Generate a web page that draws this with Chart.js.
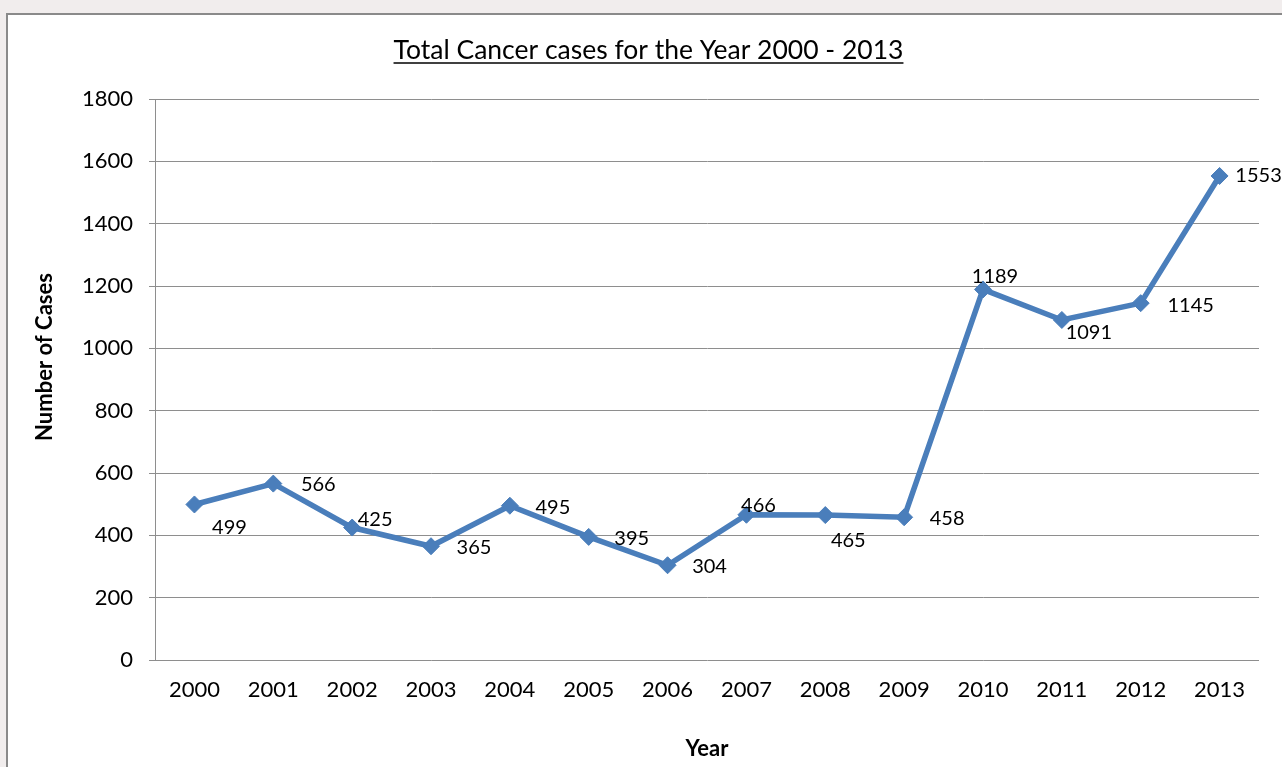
<!DOCTYPE html>
<html>
<head>
<meta charset="utf-8">
<script src="https://cdn.jsdelivr.net/npm/chart.js@4.4.1/dist/chart.umd.min.js"></script>
<style>
  html, body { margin: 0; padding: 0; background: #f1eded; }
  #wrap { width: 1282px; height: 767px; }
</style>
</head>
<body>
<div id="wrap"><canvas id="c" width="1282" height="767"></canvas></div>
<script>
// ---- data ----
const years = ['2000','2001','2002','2003','2004','2005','2006','2007','2008','2009','2010','2011','2012','2013'];
const cases = [499, 566, 425, 365, 495, 395, 304, 466, 465, 458, 1189, 1091, 1145, 1553];
const yTicks = [0, 200, 400, 600, 800, 1000, 1200, 1400, 1600, 1800];
const chartTitle = 'Total Cancer cases for the Year 2000 - 2013';
const xTitle = 'Year';
const yTitle = 'Number of Cases';
// label placement offsets (style, px) relative to each point
const labelDx = [35, 45, 23, 43, 43, 43, 42, 12, 23, 43, 12, 27, 50, 39];
const labelDy = [23, 1, -8, 1, 2, 2, 1, -9, 25, 1, -13, 13, 2, 0];

const FONT = 'Lato, "Open Sans", sans-serif';

const framePlugin = {
  id: 'frame',
  beforeDraw(chart) {
    const ctx = chart.ctx;
    ctx.save();
    ctx.fillStyle = '#f1eded';
    ctx.fillRect(0, 0, chart.width, chart.height);
    ctx.fillStyle = '#ffffff';
    ctx.fillRect(7, 14, chart.width - 7, chart.height - 14);
    ctx.strokeStyle = '#8a8a8a';
    ctx.lineWidth = 2;
    ctx.beginPath();
    ctx.moveTo(7, chart.height);
    ctx.lineTo(7, 14);
    ctx.lineTo(chart.width, 14);
    ctx.stroke();
    // title
    ctx.fillStyle = '#000';
    ctx.font = '26.5px ' + FONT;
    ctx.textAlign = 'center';
    ctx.textBaseline = 'alphabetic';
    const cx = 648.5, by = 59;
    ctx.fillText(chartTitle, cx, by);
    const w = ctx.measureText(chartTitle).width;
    ctx.lineWidth = 1.6;
    ctx.strokeStyle = '#000';
    ctx.beginPath();
    ctx.moveTo(cx - w / 2, by + 4);
    ctx.lineTo(cx + w / 2, by + 4);
    ctx.stroke();
    // y axis title
    ctx.translate(45, 357);
    ctx.rotate(-Math.PI / 2);
    ctx.font = 'bold 22px ' + FONT;
    ctx.textBaseline = 'middle';
    ctx.fillText(yTitle, 0, 0);
    ctx.restore();
  },
  afterDatasetsDraw(chart) {
    const ctx = chart.ctx;
    const meta = chart.getDatasetMeta(0);
    ctx.save();
    ctx.fillStyle = '#000';
    ctx.font = '20px ' + FONT;
    ctx.textAlign = 'center';
    ctx.textBaseline = 'middle';
    meta.data.forEach((pt, i) => {
      ctx.fillText(String(cases[i]), pt.x + labelDx[i], pt.y + labelDy[i]);
    });
    ctx.restore();
  }
};

function build() {
  new Chart(document.getElementById('c'), {
    type: 'line',
    data: {
      labels: years,
      datasets: [{
        data: cases,
        borderColor: '#4a7ebb',
        backgroundColor: '#4a7ebb',
        borderWidth: 5.5,
        pointStyle: 'rectRot',
        pointRadius: 8.5,
        pointBorderWidth: 1,
        pointBorderColor: '#4a7ebb',
        tension: 0,
        fill: false
      }]
    },
    options: {
      responsive: false,
      animation: false,
      devicePixelRatio: 1,
      layout: { padding: { top: 99, right: 23, bottom: 0, left: 31 } },
      plugins: { legend: { display: false }, tooltip: { enabled: false }, title: { display: false } },
      scales: {
        x: {
          offset: true,
          grid: { display: false, drawTicks: false },
          border: { display: false },
          ticks: { color: '#000', font: { family: FONT, size: 22 }, padding: 17, maxRotation: 0, autoSkip: false },
          title: { display: true, text: xTitle, color: '#000', font: { family: FONT, size: 22, weight: 'bold' }, padding: { top: 0, bottom: 5 } },
          afterFit(s) { s.height = 107; }
        },
        y: {
          min: yTicks[0],
          max: yTicks[yTicks.length - 1],
          afterBuildTicks(s) { s.ticks = yTicks.map(v => ({ value: v })); },
          grid: { color: '#8e8e8e', lineWidth: 1, drawTicks: true, tickLength: 6 },
          border: { display: true, color: '#8e8e8e', width: 1 },
          ticks: { color: '#000', font: { family: FONT, size: 22 }, padding: 16, callback: v => String(v) },
          title: { display: false, text: yTitle },
          afterFit(s) { s.width = 124; }
        }
      }
    },
    plugins: [framePlugin]
  });
}

if (document.fonts && document.fonts.load) {
  Promise.all([
    document.fonts.load('21px Lato'),
    document.fonts.load('bold 19px Lato')
  ]).then(build, build);
} else {
  build();
}
</script>
</body>
</html>
